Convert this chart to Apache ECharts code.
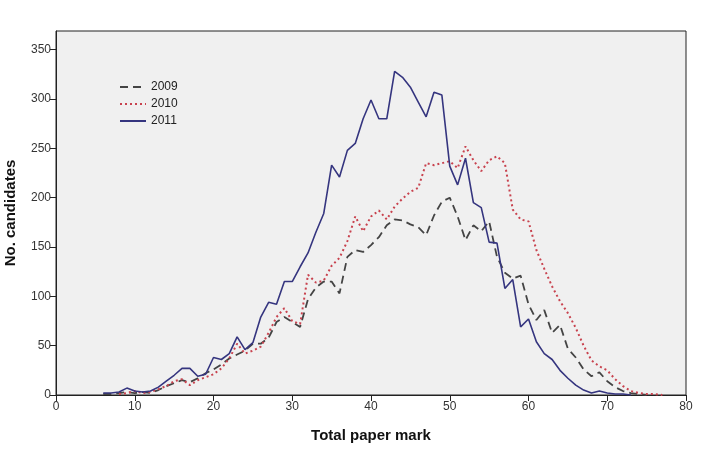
<!DOCTYPE html>
<html>
<head>
<meta charset="utf-8">
<script src="https://cdn.jsdelivr.net/npm/echarts@6/dist/echarts.min.js"></script>
<style>
html,body{margin:0;padding:0;background:#fff;}
#c{width:706px;height:454px;}
</style>
</head>
<body>
<div id="c"></div>
<script>
// Total paper mark (x) values 6..77
const marks = [6,7,8,9,10,11,12,13,14,15,16,17,18,19,20,21,22,23,24,25,26,27,28,29,30,31,32,33,34,35,36,37,38,39,40,41,42,43,44,45,46,47,48,49,50,51,52,53,54,55,56,57,58,59,60,61,62,63,64,65,66,67,68,69,70,71,72,73,74,75,76,77];
const y2009 = [1,1,2,3,2,3,2,5,9,12,15,13,17,22,26,31,37,41,45,52,52,58,74,79,74,69,97,109,115,115,103,140,147,145,152,160,172,178,177,173,170,162,182,196,200,181,157,172,166,176,140,124,118,121,92,76,86,63,71,47,38,26,19,23,14,8,4,2,1,0,null,null];
const y2010 = [null,null,1,2,4,2,3,6,9,14,16,10,15,18,21,27,37,52,42,45,49,63,79,88,75,72,122,114,116,131,139,156,181,166,181,187,178,191,199,206,210,235,233,235,237,230,252,238,227,238,242,235,188,178,176,147,128,110,95,83,68,50,35,29,25,16,9,4,2,1,1,0];
const y2011 = [2,2,3,7,4,3,4,8,14,20,27,27,19,21,38,36,42,59,46,53,79,94,92,115,115,130,144,165,184,233,221,248,255,280,299,280,280,328,322,312,297,282,307,304,232,213,240,195,190,155,154,108,117,69,77,54,42,36,25,17,10,5,2,4,2,1,1,0,null,null,null,null];
const seriesNames = ['2009','2010','2011'];
const xTicks = [0,10,20,30,40,50,60,70,80];
const yTicks = [0,50,100,150,200,250,300,350];

function pairs(vals){ return marks.map((m,i)=>[m, vals[i]]); }

const chart = echarts.init(document.getElementById('c'), null, {renderer:'canvas'});
const font = 'Liberation Sans, Arial, sans-serif';
chart.setOption({
  animation:false,
  backgroundColor:'#ffffff',
  textStyle:{fontFamily:font},
  grid:{left:56,right:20,top:31,bottom:59,show:true,backgroundColor:'#f0f0f0',borderColor:'#222',borderWidth:1,
        containLabel:false, outerBoundsMode:'none'},
  legend:{
    orient:'vertical', left:114, top:76, itemWidth:26, itemHeight:10, itemGap:5,
    data:seriesNames,
    itemStyle:{opacity:0},
    textStyle:{fontSize:12,color:'#222',fontFamily:font}
  },
  xAxis:{
    type:'value', min:0, max:80, interval:10,
    name:'Total paper mark', nameLocation:'middle', nameGap:33,
    nameTextStyle:{fontSize:15,fontWeight:'bold',color:'#111',fontFamily:font},
    axisLine:{show:true,onZero:false,lineStyle:{color:'#222',width:1}},
    axisTick:{show:true,length:6,lineStyle:{color:'#222'},customValues:xTicks},
    axisLabel:{fontSize:12,color:'#333',margin:6,customValues:xTicks},
    splitLine:{show:false}
  },
  yAxis:{
    type:'value', min:0, max:369,
    name:'No. candidates', nameLocation:'middle', nameGap:38,
    nameTextStyle:{fontSize:15,fontWeight:'bold',color:'#111',fontFamily:font},
    axisLine:{show:true,lineStyle:{color:'#222',width:1}},
    axisTick:{show:true,length:6,lineStyle:{color:'#222'},customValues:yTicks},
    axisLabel:{fontSize:12,color:'#333',margin:5,customValues:yTicks},
    splitLine:{show:false}
  },
  series:[
    {name:seriesNames[0],type:'line',data:pairs(y2009),symbol:'none',connectNulls:false,
     lineStyle:{color:'#444444',width:1.8,type:[8,5]},itemStyle:{color:'#444444'}},
    {name:seriesNames[1],type:'line',data:pairs(y2010),symbol:'none',
     lineStyle:{color:'#c8424e',width:2,type:[2,3]},itemStyle:{color:'#c8424e'}},
    {name:seriesNames[2],type:'line',data:pairs(y2011),symbol:'none',
     lineStyle:{color:'#35357f',width:1.6,type:'solid'},itemStyle:{color:'#35357f'}}
  ]
});
</script>
</body>
</html>
